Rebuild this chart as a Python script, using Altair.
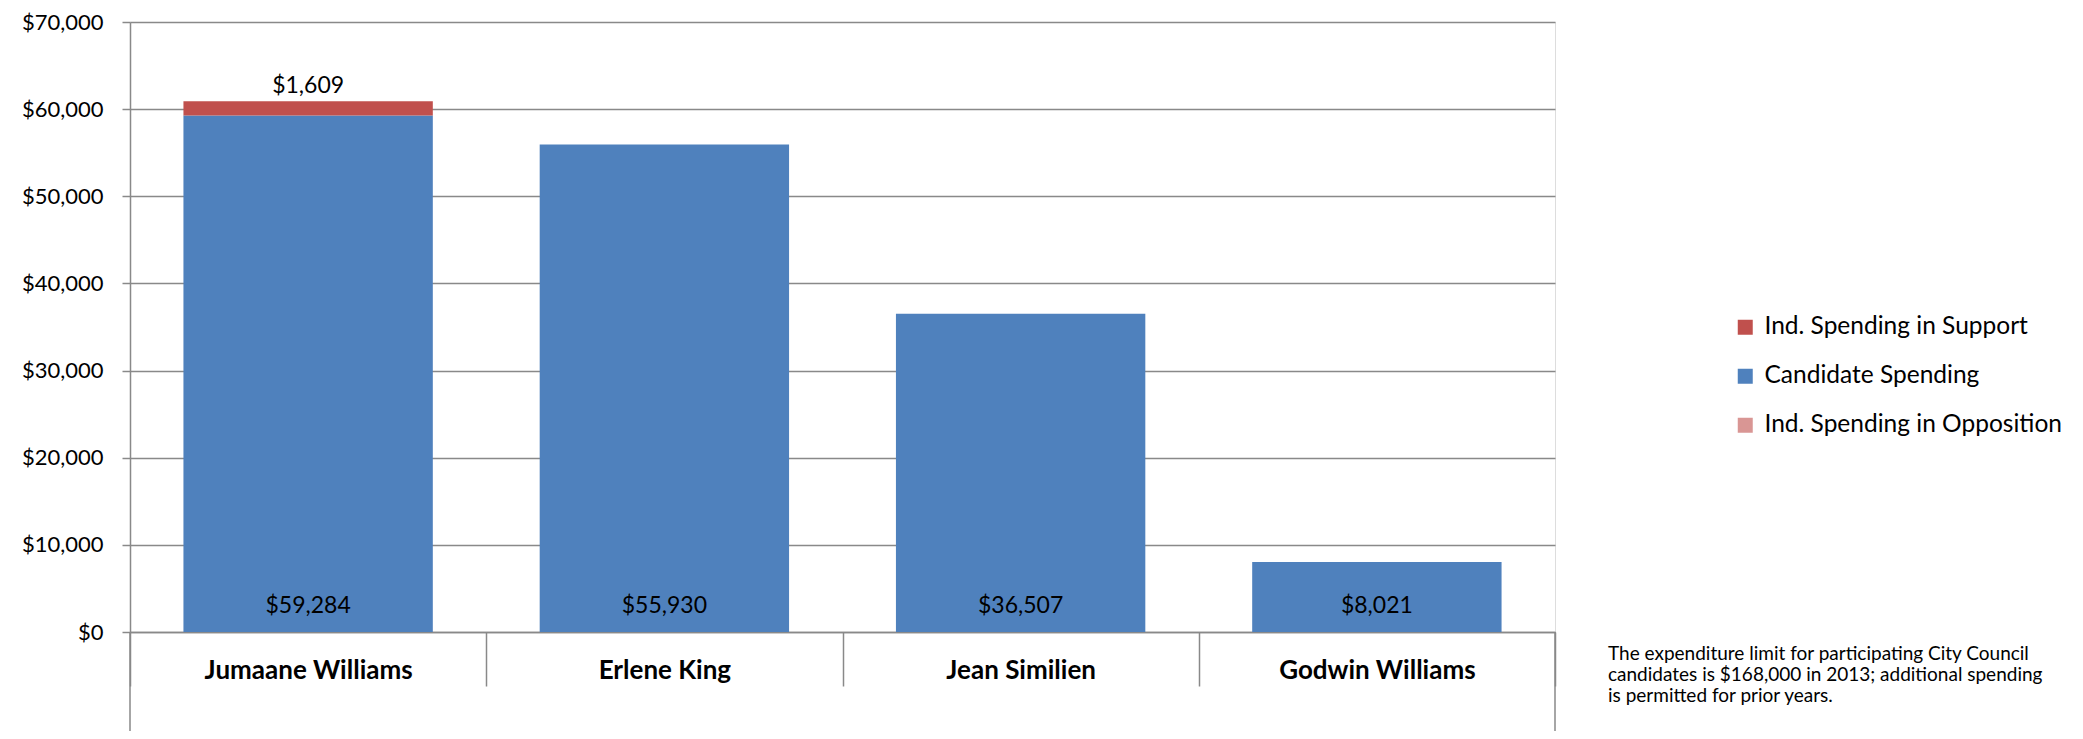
import altair as alt
import pandas as pd

candidates = ["Jumaane Williams", "Erlene King", "Jean Similien", "Godwin Williams"]
candidate_spending = [59284, 55930, 36507, 8021]
support_spending = [1609, 0, 0, 0]
opposition_spending = [0, 0, 0, 0]
series = ["Ind. Spending in Support", "Candidate Spending", "Ind. Spending in Opposition"]
colors = ["#C0504D", "#4F81BD", "#D99694"]
y_ticks = [0, 10000, 20000, 30000, 40000, 50000, 60000, 70000]
note_lines = [
    "The expenditure limit for participating City Council",
    "candidates is $168,000 in 2013; additional spending",
    "is permitted for prior years.",
]

FONT = "Lato"
GRAY = "#898989"
W, H = 1425, 610

rows = []
for i, c in enumerate(candidates):
    rows.append({"candidate": c, "series": series[1], "value": candidate_spending[i], "order": 1})
    rows.append({"candidate": c, "series": series[0], "value": support_spending[i], "order": 2})
    rows.append({"candidate": c, "series": series[2], "value": opposition_spending[i], "order": 3})
df = pd.DataFrame(rows)

cand_df = pd.DataFrame({"candidate": candidates, "value": candidate_spending, "base": [0] * len(candidates)})
sup_df = pd.DataFrame({
    "candidate": candidates,
    "value": support_spending,
    "total": [a + b for a, b in zip(candidate_spending, support_spending)],
})
sup_df = sup_df[sup_df["value"] > 0]

x_scale = alt.Scale(paddingInner=0, paddingOuter=0)
x_enc = alt.X(
    "candidate:N",
    sort=candidates,
    scale=x_scale,
    axis=alt.Axis(
        title=None,
        labelFont=FONT,
        labelFontSize=26,
        labelFontWeight="bold",
        labelColor="black",
        labelAngle=0,
        labelLimit=400,
        tickBand="extent",
        tickSize=54,
        tickColor=GRAY,
        tickWidth=1.5,
        domainColor=GRAY,
        domainWidth=1.5,
        labelPadding=-29,
        grid=False,
    ),
)
y_scale = alt.Scale(domain=[0, 70000], nice=False)

bars = alt.Chart(df).mark_bar(width=alt.RelativeBandSize(0.7)).encode(
    x=x_enc,
    y=alt.Y(
        "value:Q",
        stack="zero",
        scale=y_scale,
        axis=alt.Axis(
            title=None,
            values=y_ticks,
            format="$,.0f",
            labelFont=FONT,
            labelFontSize=22,
            labelColor="black",
            labelPadding=19,
            tickSize=8,
            tickColor=GRAY,
            tickWidth=1.5,
            domainColor=GRAY,
            domainWidth=1.5,
            gridColor=GRAY,
            gridWidth=1.3,
        ),
    ),
    color=alt.Color(
        "series:N",
        scale=alt.Scale(domain=series, range=colors),
        legend=alt.Legend(
            title=None,
            orient="none",
            legendX=1603,
            legendY=293,
            symbolType="square",
            symbolSize=225,
            symbolStrokeWidth=0,
            labelFont=FONT,
            labelFontSize=24.5,
            labelColor="black",
            labelOffset=7,
            labelLimit=600,
            rowPadding=24,
            padding=0,
        ),
    ),
    order=alt.Order("order:Q"),
)

cand_labels = alt.Chart(cand_df).mark_text(
    font=FONT, fontSize=23, color="black", baseline="middle", dy=-26
).encode(
    x=alt.X("candidate:N", sort=candidates, scale=x_scale),
    y=alt.Y("base:Q"),
    text=alt.Text("value:Q", format="$,.0f"),
)

sup_labels = alt.Chart(sup_df).mark_text(
    font=FONT, fontSize=23, color="black", baseline="bottom", dy=-3
).encode(
    x=alt.X("candidate:N", sort=candidates, scale=x_scale),
    y=alt.Y("total:Q"),
    text=alt.Text("value:Q", format="$,.0f"),
)

frame_df = pd.DataFrame({"side": ["left", "right"]})
left_rule = alt.Chart(frame_df.iloc[:1]).mark_rule(color=GRAY, strokeWidth=1.5).encode(
    x=alt.value(0), y=alt.value(H), y2=alt.value(H + 110)
)
right_rule = alt.Chart(frame_df.iloc[1:]).mark_rule(color=GRAY, strokeWidth=1.5).encode(
    x=alt.value(W), y=alt.value(H), y2=alt.value(H + 110)
)

note_df = pd.DataFrame({"text": [note_lines]})
note = alt.Chart(note_df).mark_text(
    font=FONT, fontSize=19, color="black", align="left", baseline="top", lineHeight=21
).encode(
    x=alt.value(1478), y=alt.value(623), text="text"
)

chart = alt.layer(bars, cand_labels, sup_labels, left_rule, right_rule, note).properties(
    width=W,
    height=H,
    autosize=alt.AutoSizeParams(type="none"),
    padding={"left": 122, "top": 14, "right": 520, "bottom": 99},
).configure_view(stroke=None).configure(font=FONT)

chart.save("out.html", embed_options={"renderer": "svg", "actions": False})
